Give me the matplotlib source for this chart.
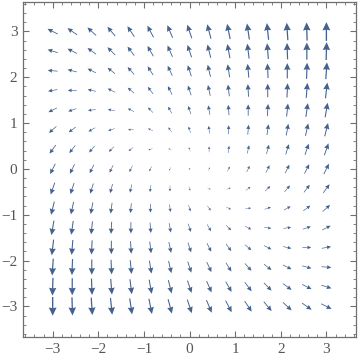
import numpy as np
import matplotlib
matplotlib.use("Agg")
import matplotlib.pyplot as plt
from matplotlib.ticker import MultipleLocator

grid = np.linspace(-3, 3, 15)

# field components (relative units)
# rows go from y = -3 (bottom) up to y = 3 (top), columns from x = -3 to 3
u_rows = [
    [0, 1, 2, 3, 4, 5, 6, 7, 8, 9, 10, 11, 12, 13, 14],
    [-1, 0, 1, 2, 3, 4, 5, 6, 7, 8, 9, 10, 11, 12, 13],
    [-2, -1, 0, 1, 2, 3, 4, 5, 6, 7, 8, 9, 10, 11, 12],
    [-3, -2, -1, 0, 1, 2, 3, 4, 5, 6, 7, 8, 9, 10, 11],
    [-4, -3, -2, -1, 0, 1, 2, 3, 4, 5, 6, 7, 8, 9, 10],
    [-5, -4, -3, -2, -1, 0, 1, 2, 3, 4, 5, 6, 7, 8, 9],
    [-6, -5, -4, -3, -2, -1, 0, 1, 2, 3, 4, 5, 6, 7, 8],
    [-7, -6, -5, -4, -3, -2, -1, 0, 1, 2, 3, 4, 5, 6, 7],
    [-8, -7, -6, -5, -4, -3, -2, -1, 0, 1, 2, 3, 4, 5, 6],
    [-9, -8, -7, -6, -5, -4, -3, -2, -1, 0, 1, 2, 3, 4, 5],
    [-10, -9, -8, -7, -6, -5, -4, -3, -2, -1, 0, 1, 2, 3, 4],
    [-11, -10, -9, -8, -7, -6, -5, -4, -3, -2, -1, 0, 1, 2, 3],
    [-12, -11, -10, -9, -8, -7, -6, -5, -4, -3, -2, -1, 0, 1, 2],
    [-13, -12, -11, -10, -9, -8, -7, -6, -5, -4, -3, -2, -1, 0, 1],
    [-14, -13, -12, -11, -10, -9, -8, -7, -6, -5, -4, -3, -2, -1, 0],
]
v_rows = [
    [-35, -33, -31, -29, -27, -25, -23, -21, -19, -17, -15, -13, -11, -9, -7],
    [-32, -30, -28, -26, -24, -22, -20, -18, -16, -14, -12, -10, -8, -6, -4],
    [-29, -27, -25, -23, -21, -19, -17, -15, -13, -11, -9, -7, -5, -3, -1],
    [-26, -24, -22, -20, -18, -16, -14, -12, -10, -8, -6, -4, -2, 0, 2],
    [-23, -21, -19, -17, -15, -13, -11, -9, -7, -5, -3, -1, 1, 3, 5],
    [-20, -18, -16, -14, -12, -10, -8, -6, -4, -2, 0, 2, 4, 6, 8],
    [-17, -15, -13, -11, -9, -7, -5, -3, -1, 1, 3, 5, 7, 9, 11],
    [-14, -12, -10, -8, -6, -4, -2, 0, 2, 4, 6, 8, 10, 12, 14],
    [-11, -9, -7, -5, -3, -1, 1, 3, 5, 7, 9, 11, 13, 15, 17],
    [-8, -6, -4, -2, 0, 2, 4, 6, 8, 10, 12, 14, 16, 18, 20],
    [-5, -3, -1, 1, 3, 5, 7, 9, 11, 13, 15, 17, 19, 21, 23],
    [-2, 0, 2, 4, 6, 8, 10, 12, 14, 16, 18, 20, 22, 24, 26],
    [1, 3, 5, 7, 9, 11, 13, 15, 17, 19, 21, 23, 25, 27, 29],
    [4, 6, 8, 10, 12, 14, 16, 18, 20, 22, 24, 26, 28, 30, 32],
    [7, 9, 11, 13, 15, 17, 19, 21, 23, 25, 27, 29, 31, 33, 35],
]

X, Y = np.meshgrid(grid, grid)
U = np.array(u_rows, dtype=float)
V = np.array(v_rows, dtype=float)

# arrow length grows slower than the magnitude, like Mathematica's VectorPlot
M = np.hypot(U, V)
L = 0.41 * (M / M.max()) ** 0.6
with np.errstate(invalid="ignore", divide="ignore"):
    du = np.where(M > 0, U / M * L, 0.0)
    dv = np.where(M > 0, V / M * L, 0.0)

fig = plt.figure(figsize=(3.6, 3.59), dpi=100)
ax = fig.add_axes([0.064, 0.061, 0.925, 0.933])

# minshaft large enough that every arrow (head included) scales with its length
ax.quiver(X, Y, du, dv, pivot="middle", angles="xy", scale_units="xy", scale=1,
          units="dots", width=1.45, headwidth=5.8, headlength=6.2,
          headaxislength=5.7, minshaft=2.25, color="#45628f")

ax.set_xlim(-3.65, 3.65)
ax.set_ylim(-3.67, 3.64)

frame = "#6f6f6f"
for s in ax.spines.values():
    s.set_color(frame)
    s.set_linewidth(0.9)

ax.xaxis.set_major_locator(MultipleLocator(1))
ax.yaxis.set_major_locator(MultipleLocator(1))
ax.xaxis.set_minor_locator(MultipleLocator(0.2))
ax.yaxis.set_minor_locator(MultipleLocator(0.2))
ax.tick_params(which="both", direction="in", top=True, right=True, color=frame,
               labelcolor="#555555", labelsize=11, pad=4)
ax.tick_params(which="major", length=4, width=0.8)
ax.tick_params(which="minor", length=2, width=0.6)
for lab in ax.get_xticklabels() + ax.get_yticklabels():
    lab.set_family("Liberation Serif")

fig.savefig("out.png", dpi=100)
